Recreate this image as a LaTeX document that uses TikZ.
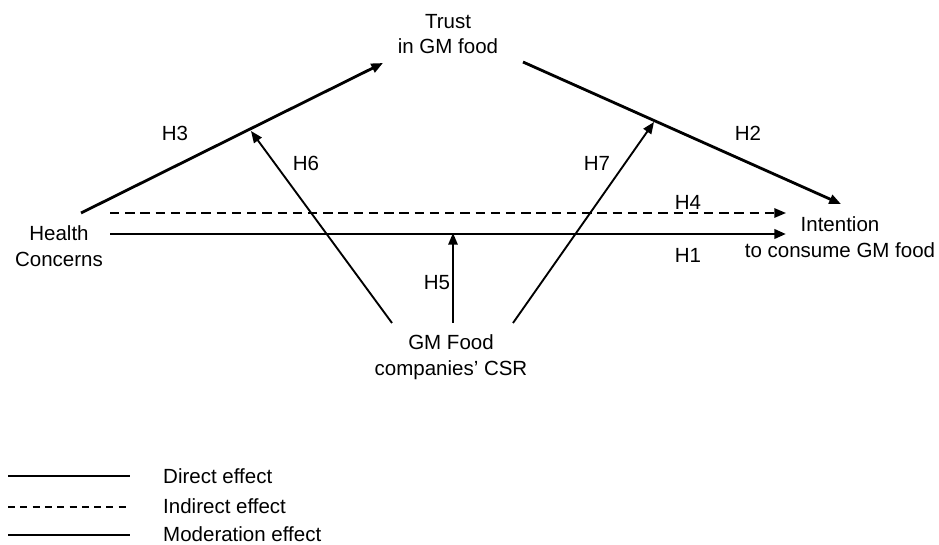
\documentclass[tikz,border=0pt]{standalone}
\usepackage{fontspec}
\setmainfont{Liberation Sans}
\usetikzlibrary{arrows.meta}

\begin{document}
\begin{tikzpicture}[x=0.03cm, y=-0.03cm,
		every node/.style={font=\fontsize{17.5}{22}\selectfont, align=center, inner sep=0pt},
		direct/.style={line width=2.4pt, -{Triangle[length=10pt, width=8pt]}},
		indirect/.style={line width=1.6pt, dash pattern=on 8pt off 5pt, -{Triangle[length=10pt, width=8pt]}},
		moder/.style={line width=1.6pt, -{Triangle[length=10pt, width=8pt]}}]
	\useasboundingbox (0,0) rectangle (939,545);

	% Konstrukte
	\node (trust) at (448,34) {Trust\\in GM food};
	\node (health) at (59,246) {Health\\Concerns};
	\node (intent) at (840,237) {Intention\\to consume GM food};
	\node (csr) at (451,357) {GM Food\\companies' CSR};

	% Anfangs- und Endpunkte
	\coordinate (h3s) at (81,213);
	\coordinate (h3e) at (383,63);
	\coordinate (h2s) at (523,62);
	\coordinate (h2e) at (841,204);
	\coordinate (h4s) at (110,213);
	\coordinate (h4e) at (786,213);
	\coordinate (h1s) at (110,234);
	\coordinate (h1e) at (786,234);
	\coordinate (h6s) at (392,323);
	\coordinate (h6e) at (251,131);
	\coordinate (h7s) at (513,323);
	\coordinate (h7e) at (654,122);
	\coordinate (h5s) at (453,323);
	\coordinate (h5e) at (453,233);

	% Pfade
	\draw[direct] (h3s) -- (h3e);
	\draw[direct] (h2s) -- (h2e);
	\draw[indirect] (h4s) -- (h4e);
	\draw[direct] (h1s) -- (h1e);
	\draw[moder] (h6s) -- (h6e);
	\draw[moder] (h7s) -- (h7e);
	\draw[moder] (h5s) -- (h5e);

	% Hypothesen
	\node (lh3) at (175,133) {H3};
	\node (lh2) at (748,133) {H2};
	\node (lh6) at (306,163) {H6};
	\node (lh7) at (597,163) {H7};
	\node (lh4) at (688,202) {H4};
	\node (lh1) at (688,255) {H1};
	\node (lh5) at (437,283) {H5};

	% Legende
	\draw[line width=2.4pt] (8,476) -- (130,476);
	\draw[line width=1.2pt, dash pattern=on 6pt off 4.5pt] (8,507) -- (130,507);
	\draw[line width=1.6pt] (8,535) -- (130,535);
	\node[anchor=west] (ldir) at (163,476) {Direct effect};
	\node[anchor=west] (lind) at (163,506) {Indirect effect};
	\node[anchor=west] (lmod) at (163,534) {Moderation effect};
\end{tikzpicture}
\end{document}
